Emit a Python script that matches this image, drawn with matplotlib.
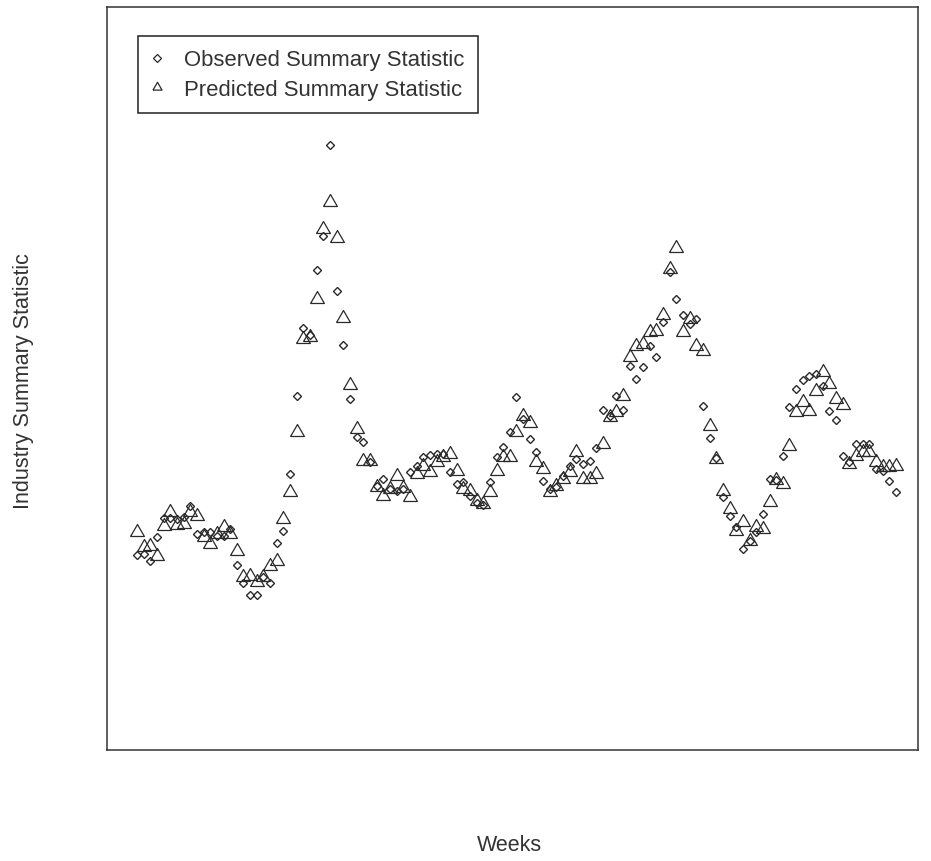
import numpy as np
import matplotlib.pyplot as plt
from matplotlib.lines import Line2D

plt.rcParams["font.family"] = ["Liberation Sans", "DejaVu Sans"]

# weekly summary statistic (arbitrary units)
weeks = np.arange(1, 116)

observed = [
    204, 205, 198, 222, 241, 241, 240, 242, 253, 225,
    227, 227, 223, 223, 230, 194, 176, 164, 164, 182,
    176, 216, 228, 285, 363, 431, 424, 489, 523, 614,
    468, 414, 360, 322, 317, 297, 273, 280, 270, 268,
    270, 287, 293, 302, 304, 305, 305, 287, 275, 277,
    263, 256, 254, 277, 302, 312, 327, 362, 340, 320,
    307, 278, 270, 272, 283, 293, 300, 295, 298, 311,
    349, 343, 363, 349, 393, 380, 392, 413, 402, 437,
    487, 460, 444, 435, 440, 353, 321, 301, 262, 243,
    232, 210, 218, 227, 245, 280, 279, 303, 352, 370,
    379, 383, 385, 373, 348, 339, 303, 297, 315, 315,
    315, 290, 288, 278, 267,
]

predicted = [
    227, 212, 213, 203, 233, 247, 234, 235, 247, 243,
    222, 215, 225, 232, 225, 208, 182, 183, 177, 182,
    193, 198, 240, 267, 327, 420, 422, 460, 530, 557,
    521, 441, 374, 330, 298, 298, 272, 263, 270, 283,
    271, 262, 285, 293, 287, 297, 302, 305, 288, 270,
    268, 258, 255, 267, 288, 302, 302, 327, 343, 336,
    297, 290, 267, 273, 280, 287, 307, 280, 280, 285,
    315, 342, 347, 363, 402, 413, 415, 427, 428, 444,
    490, 511, 427, 440, 413, 408, 333, 300, 268, 250,
    228, 237, 218, 232, 230, 257, 279, 275, 313, 347,
    357, 348, 368, 387, 375, 360, 354, 295, 303, 307,
    307, 297, 292, 292, 293,
]

fig = plt.figure(figsize=(9.31, 8.62), dpi=100)
ax = fig.add_axes([107 / 931, 111 / 862, 811 / 931, 743 / 862])

# equilateral triangle like R's pch = 2
tri = [(-1.0, -0.577), (1.0, -0.577), (0.0, 1.155), (-1.0, -0.577)]

edge = "#2a2a2a"
ax.plot(weeks, observed, linestyle="none", marker="D", markersize=4.4,
        markerfacecolor="none", markeredgecolor=edge, markeredgewidth=1.0)
ax.plot(weeks, predicted, linestyle="none", marker=tri, markersize=11.5,
        markerfacecolor="none", markeredgecolor=edge, markeredgewidth=0.9)

ax.set_xlim(-3.5, 118.3)
ax.set_ylim(9, 752)
ax.set_xticks([])
ax.set_yticks([])
for sp in ax.spines.values():
    sp.set_color("#333333")
    sp.set_linewidth(1.1)

fig.text(509 / 931, 1 - 846 / 862, "Weeks", fontsize=15.5, color="#333333",
         ha="center", va="center")
fig.text(24 / 931, 1 - 381 / 862, "Industry Summary Statistic", fontsize=15.5,
         color="#333333", ha="center", va="center", rotation=90)

handles = [
    Line2D([], [], linestyle="none", marker="D", markersize=3.6,
           markerfacecolor="none", markeredgecolor=edge, markeredgewidth=0.9),
    Line2D([], [], linestyle="none", marker=tri, markersize=7.5,
           markerfacecolor="none", markeredgecolor=edge, markeredgewidth=0.9),
]
labels = ["Observed Summary Statistic", "Predicted Summary Statistic"]
leg = ax.legend(handles, labels, loc="upper left",
                bbox_to_anchor=(31 / 811, 714 / 743), borderaxespad=0,
                fancybox=False, edgecolor="#222222", framealpha=1,
                fontsize=15.9, handlelength=0.5, handletextpad=1.0,
                borderpad=0.6, labelspacing=0.38, labelcolor="#333333")
leg.get_frame().set_linewidth(1.1)

fig.savefig("out.png", dpi=100)
